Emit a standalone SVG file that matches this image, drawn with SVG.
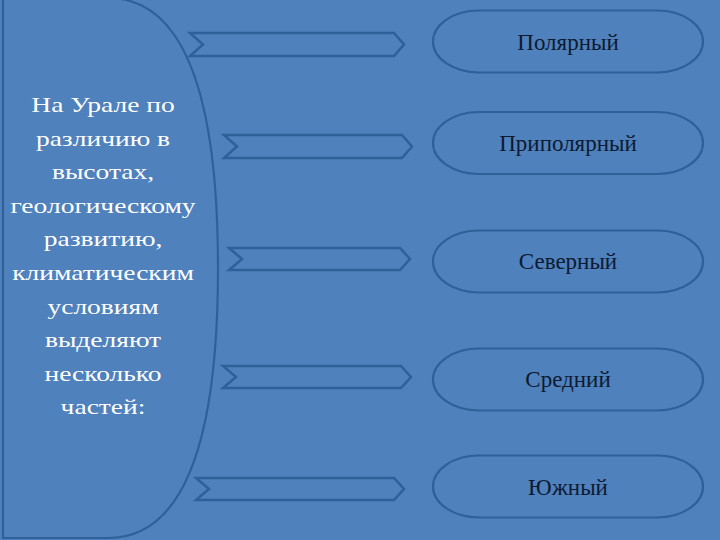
<svg xmlns="http://www.w3.org/2000/svg" width="720" height="540" viewBox="0 0 720 540">
<style>
.bg{fill:#4f81bd}
.shape{fill:#4f81bd;stroke:#2f6099;stroke-width:2.2}
.arrow{fill:#4f81bd;stroke:#2f6099;stroke-width:2.5;stroke-linejoin:miter}
.pill{fill:#4f81bd;stroke:#2f6099;stroke-width:2.2}
.lt{font-family:"Liberation Serif","Times New Roman",serif;font-size:22px;fill:#ffffff;text-anchor:middle}
.pt{font-family:"Liberation Serif","Times New Roman",serif;font-size:23px;fill:#0e1a30;text-anchor:middle}
</style>
<rect class="bg" x="0" y="0" width="720" height="540"/>
<g id="main">
<path class="shape" d="M3,-2 L108,-2 C188,-2 218,105 218,268 C218,430 188,538 108,538 L3,538 Z"/>
<g transform="translate(103,0) scale(1.25,1)">
<text class="lt" x="0" y="112">На Урале по</text>
<text class="lt" x="0" y="145.6">различию в</text>
<text class="lt" x="0" y="179.2">высотах,</text>
<text class="lt" x="0" y="212.8">геологическому</text>
<text class="lt" x="0" y="246.4">развитию,</text>
<text class="lt" x="0" y="280">климатическим</text>
<text class="lt" x="0" y="313.6">условиям</text>
<text class="lt" x="0" y="347.2">выделяют</text>
<text class="lt" x="0" y="380.8">несколько</text>
<text class="lt" x="0" y="414.4">частей:</text>
</g>
</g>
<g id="connectors">
<path class="arrow" d="M190,33 L394,33 L404,44.5 L394,56 L190,56 L203,44.5 Z"/>
<path class="arrow" d="M224,135 L402,135 L412,146.5 L402,158 L224,158 L237,146.5 Z"/>
<path class="arrow" d="M229,248 L400,248 L410,259 L400,270 L229,270 L242,259 Z"/>
<path class="arrow" d="M223,366 L401,366 L411,377 L401,388 L223,388 L236,377 Z"/>
<path class="arrow" d="M196,478 L394,478 L404,489 L394,500 L196,500 L209,489 Z"/>
</g>
<g id="n1"><rect class="pill" x="433" y="10.5" width="270" height="62" rx="46" ry="31"/><text class="pt" x="568" y="50">Полярный</text></g>
<g id="n2"><rect class="pill" x="433" y="112" width="270" height="62" rx="46" ry="31"/><text class="pt" x="568" y="151">Приполярный</text></g>
<g id="n3"><rect class="pill" x="433" y="230.5" width="270" height="62" rx="46" ry="31"/><text class="pt" x="568" y="269">Северный</text></g>
<g id="n4"><rect class="pill" x="433" y="348.5" width="270" height="62" rx="46" ry="31"/><text class="pt" x="568" y="387">Средний</text></g>
<g id="n5"><rect class="pill" x="433" y="455.5" width="270" height="62" rx="46" ry="31"/><text class="pt" x="568" y="495">Южный</text></g>
</svg>
